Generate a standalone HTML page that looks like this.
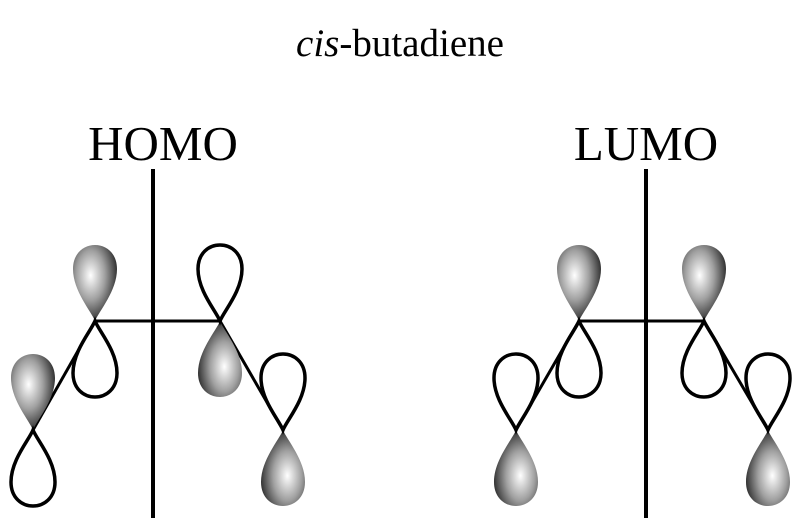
<!DOCTYPE html>
<html><head><style>body{margin:0;background:#fff}svg{display:block}text{font-family:"Liberation Serif","Times New Roman",serif}</style></head><body>
<svg width="801" height="518" viewBox="0 0 801 518" xmlns="http://www.w3.org/2000/svg">
<defs>
<radialGradient id="g" cx="0.4" cy="0.4" r="0.65">
<stop offset="0" stop-color="#ffffff"/><stop offset="0.5" stop-color="#a0a0a0"/><stop offset="1" stop-color="#222"/>
</radialGradient>
<path id="lobe" d="M0,0 C-4,-10 -22,-30 -22,-52 C-22,-84 22,-84 22,-52 C22,-30 4,-10 0,0 Z"/>
</defs>
<text x="400" y="56" font-size="39" text-anchor="middle" style="font-family:'Liberation Serif',serif"><tspan font-style="italic">cis</tspan>-butadiene</text>
<text x="163" y="160" font-size="49" text-anchor="middle">HOMO</text>
<text x="646" y="160" font-size="49" text-anchor="middle">LUMO</text>
<g stroke="#000" stroke-width="4"><line x1="153" y1="169" x2="153" y2="518"/><line x1="646" y1="169" x2="646" y2="518"/></g>
<g stroke="#000" stroke-width="3">
<line x1="95" y1="321" x2="220" y2="321"/><line x1="95" y1="321" x2="33" y2="430"/><line x1="220" y1="321" x2="283" y2="430"/>
<line x1="579" y1="321" x2="704" y2="321"/><line x1="579" y1="321" x2="516" y2="430"/><line x1="704" y1="321" x2="768" y2="430"/>
</g>
<g fill="url(#g)">
<use href="#lobe" transform="translate(95,321)"/>
<use href="#lobe" transform="translate(33,430)"/>
<use href="#lobe" transform="translate(220,321) rotate(180)"/>
<use href="#lobe" transform="translate(283,430) rotate(180)"/>
<use href="#lobe" transform="translate(579,321)"/>
<use href="#lobe" transform="translate(704,321)"/>
<use href="#lobe" transform="translate(516,430) rotate(180)"/>
<use href="#lobe" transform="translate(768,430) rotate(180)"/>
</g>
<g fill="#fff" stroke="#000" stroke-width="3.5">
<use href="#lobe" transform="translate(95,321) rotate(180)"/>
<use href="#lobe" transform="translate(33,430) rotate(180)"/>
<use href="#lobe" transform="translate(220,321)"/>
<use href="#lobe" transform="translate(283,430)"/>
<use href="#lobe" transform="translate(579,321) rotate(180)"/>
<use href="#lobe" transform="translate(704,321) rotate(180)"/>
<use href="#lobe" transform="translate(516,430)"/>
<use href="#lobe" transform="translate(768,430)"/>
</g>
</svg>
</body></html>
